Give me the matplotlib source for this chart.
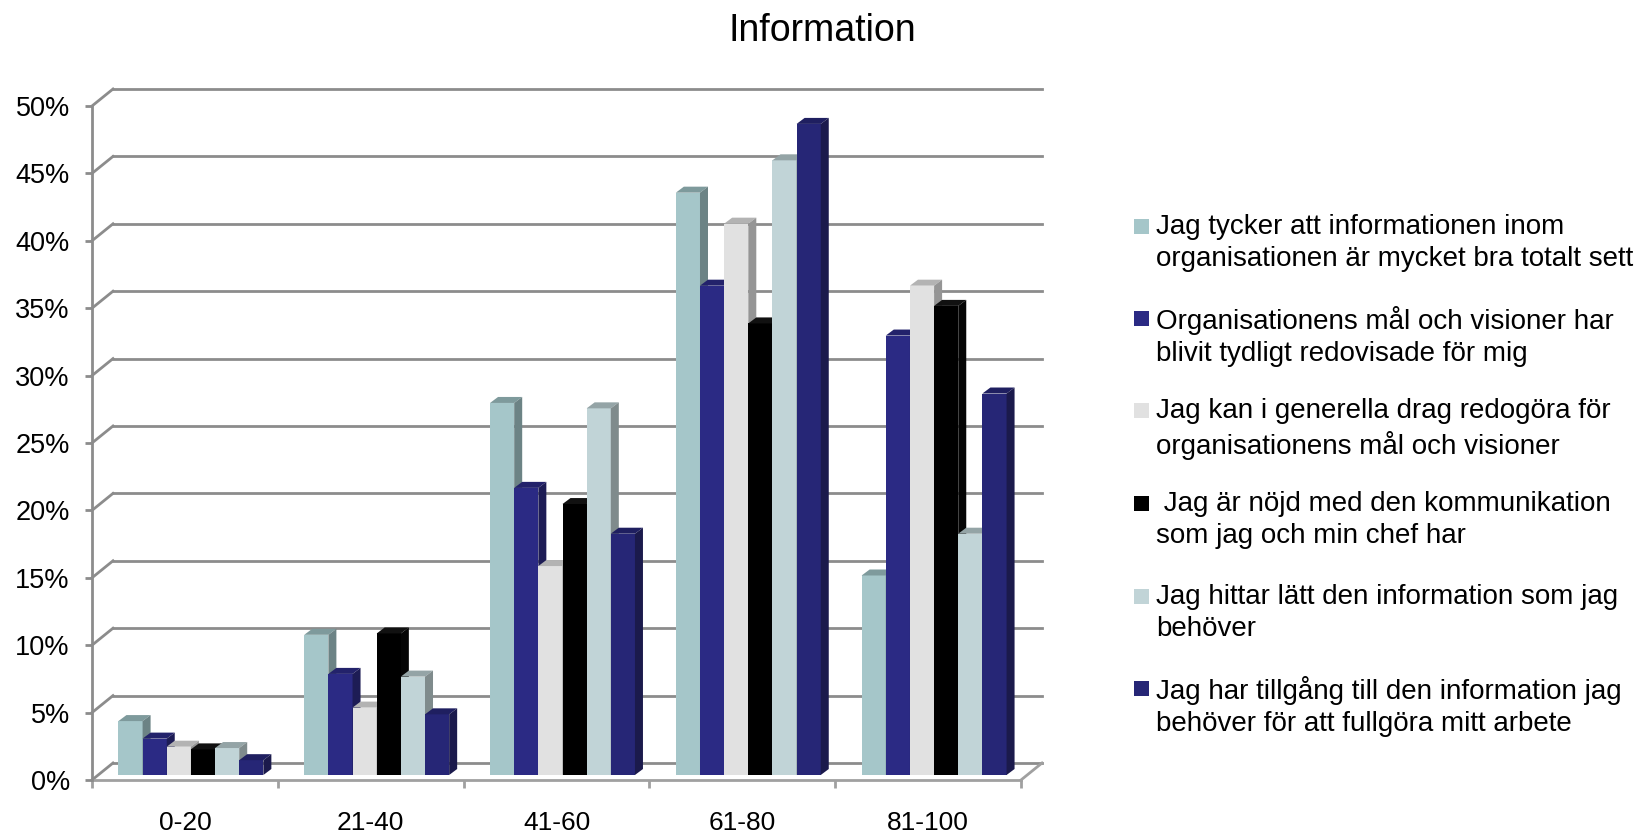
import matplotlib
matplotlib.use("Agg")
import matplotlib.pyplot as plt
from matplotlib.patches import Polygon, Rectangle

plt.rcParams['font.family'] = ['Liberation Sans', 'DejaVu Sans']

# data
categories = ['0-20', '21-40', '41-60', '61-80', '81-100']
series_names = [
    'Jag tycker att informationen inom\norganisationen är mycket bra totalt sett',
    'Organisationens mål och visioner har\nblivit tydligt redovisade för mig',
    'Jag kan i generella drag redogöra för\norganisationens mål och visioner',
    ' Jag är nöjd med den kommunikation\nsom jag och min chef har',
    'Jag hittar lätt den information som jag\nbehöver',
    'Jag har tillgång till den information jag\nbehöver för att fullgöra mitt arbete',
]
info_total = [0.040, 0.104, 0.276, 0.432, 0.148]
mal_visioner = [0.027, 0.075, 0.213, 0.363, 0.326]
redogora = [0.021, 0.050, 0.155, 0.409, 0.363]
kommunikation = [0.019, 0.105, 0.201, 0.335, 0.348]
hittar_info = [0.020, 0.073, 0.272, 0.456, 0.179]
tillgang = [0.011, 0.045, 0.179, 0.483, 0.283]
series = [info_total, mal_visioner, redogora, kommunikation, hittar_info, tillgang]
y_ticks = [0, 0.05, 0.10, 0.15, 0.20, 0.25, 0.30, 0.35, 0.40, 0.45, 0.50]

# front, top, side colours per series
colors = [
    ('#A5C6C9', '#7E9A9C', '#6C8385'),
    ('#2B2A84', '#23226B', '#1D1C55'),
    ('#E1E1E1', '#B3B3B3', '#959595'),
    ('#000000', '#111111', '#050505'),
    ('#C1D4D7', '#94A4A6', '#7F8B8C'),
    ('#262676', '#1F1F60', '#1B1A4C'),
]

W, H = 1642, 833
fig = plt.figure(figsize=(W / 100, H / 100), dpi=100)
ax_l, ax_r, ax_b, ax_t = 92, 1021, 780, 106   # front plane in pixels
ax = fig.add_axes([ax_l / W, (H - ax_b) / H, (ax_r - ax_l) / W, (ax_b - ax_t) / H])
ax.set_xlim(0, len(categories))
ax.set_ylim(0, 0.5)

# pixel -> data helpers
px_x = len(categories) / (ax_r - ax_l)
px_y = 0.5 / (ax_b - ax_t)
back_dx, back_dy = 21 * px_x, 17 * px_y
bar_dx, bar_dy = 6 * px_x, 5 * px_y
dep_dx, dep_dy = 8 * px_x, 6 * px_y

grid_c = '#8C8C8C'
# back wall gridlines + diagonals on the left wall
for v in y_ticks:
    ax.plot([back_dx, len(categories) + back_dx], [v + back_dy, v + back_dy],
            color=grid_c, lw=2, clip_on=False, zorder=1)
    ax.plot([0, back_dx], [v, v + back_dy], color=grid_c, lw=2, clip_on=False, zorder=1)
# floor
ax.plot([0, len(categories)], [0, 0], color='#A0A0A0', lw=2, clip_on=False, zorder=1)
ax.plot([len(categories), len(categories) + back_dx], [0, back_dy],
        color='#A0A0A0', lw=2, clip_on=False, zorder=1)

# bars
n = len(series)
w = 0.13
for j, vals in enumerate(series):
    front, top, side = colors[j]
    xs = [i + 0.5 + (j - (n - 1) / 2) * w + bar_dx for i in range(len(categories))]
    z = 2 + j * 0.1
    ax.bar(xs, vals, width=w, bottom=bar_dy, color=front, edgecolor='none',
           zorder=z, clip_on=False)
    for x, v in zip(xs, vals):
        x0, x1, yt = x - w / 2, x + w / 2, v + bar_dy
        ax.add_patch(Polygon([(x0, yt), (x1, yt), (x1 + dep_dx, yt + dep_dy),
                              (x0 + dep_dx, yt + dep_dy)], closed=True,
                             facecolor=top, edgecolor='none', zorder=z, clip_on=False))
        ax.add_patch(Polygon([(x1, bar_dy), (x1 + dep_dx, bar_dy + dep_dy),
                              (x1 + dep_dx, yt + dep_dy), (x1, yt)], closed=True,
                             facecolor=side, edgecolor='none', zorder=z, clip_on=False))

for s in ['top', 'right', 'bottom']:
    ax.spines[s].set_visible(False)
ax.spines['left'].set_color(grid_c)
ax.spines['left'].set_linewidth(2)
ax.set_yticks(y_ticks)
ax.set_yticklabels([f'{int(round(v * 100))}%' for v in y_ticks])
ax.tick_params(axis='y', length=5, width=2, color=grid_c, pad=11, labelsize=19.5)
ax.set_xticks([i + 0.5 for i in range(len(categories))])
ax.set_xticklabels(categories)
ax.set_xticks(range(len(categories) + 1), minor=True)
ax.tick_params(axis='x', which='major', length=0, pad=22, labelsize=19)
ax.tick_params(axis='x', which='minor', length=6, width=2, color='#A0A0A0')

fig.text(822 / W, 1 - 31 / H, 'Information', ha='center', va='center', fontsize=27)

# legend
leg_y = [227, 319, 411, 504, 597, 689]
for j, name in enumerate(series_names):
    yc = H - leg_y[j]
    fig.patches.append(Rectangle((1134 / W, (yc - 7) / H), 15 / W, 15 / H,
                                 transform=fig.transFigure, facecolor=colors[j][0],
                                 edgecolor='none'))
    fig.text(1156 / W, (yc + 13) / H, name, ha='left', va='top', fontsize=20,
             linespacing=1.3)

fig.savefig('out.png', dpi=100)
